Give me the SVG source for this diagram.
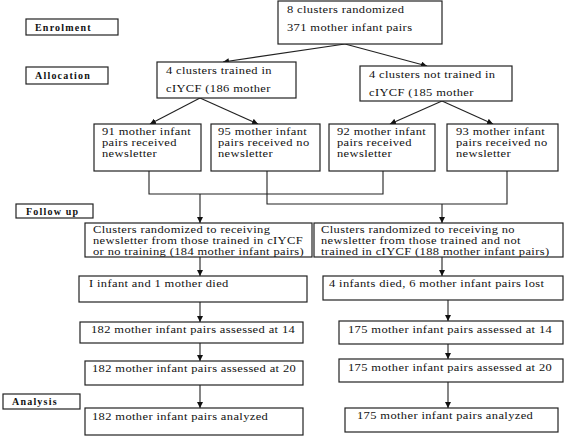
<svg xmlns="http://www.w3.org/2000/svg" width="567" height="436" viewBox="0 0 567 436">
<defs>
<marker id="ah" viewBox="0 0 10 10" refX="10" refY="5" markerWidth="6" markerHeight="6" orient="auto" markerUnits="userSpaceOnUse">
<path d="M0,0 L10,5 L0,10 z" fill="#111"/>
</marker>
</defs>
<style>
rect{fill:#fff;stroke:#222;stroke-width:1.2}
text{font-family:"Liberation Serif","Times New Roman",serif;font-size:10px;letter-spacing:0.3px;fill:#111}
.lbl{font-weight:bold;font-size:10px;letter-spacing:1.2px}
.c{fill:none;stroke:#222;stroke-width:1.1}
.a{marker-end:url(#ah)}
</style>
<rect x="0" y="0" width="567" height="436" style="fill:#fff;stroke:none"/>
<g id="connectors">
<path class="c a" d="M345,44 L223,62"/>
<path class="c a" d="M345,44 L427,66"/>
<path class="c a" d="M200,98 L150,124"/>
<path class="c a" d="M200,98 L258,124"/>
<path class="c a" d="M442,101 L390,124"/>
<path class="c a" d="M442,101 L493,124"/>
<path class="c" d="M149,171 V194 H383 V171"/>
<path class="c" d="M267,171 V204 H507 V171"/>
<path class="c a" d="M200,194 V223"/>
<path class="c a" d="M442,204 V223"/>
<path class="c a" d="M200,257 V276"/>
<path class="c a" d="M442,257 V276"/>
<path class="c a" d="M200,302 V322"/>
<path class="c a" d="M448,300 V321"/>
<path class="c a" d="M200,343 V361"/>
<path class="c a" d="M448,344 V359"/>
<path class="c a" d="M200,385 V408"/>
<path class="c a" d="M448,382 V408"/>
</g>
<g id="lbl-enrolment"><rect x="26" y="19" width="92" height="16"/><text class="lbl" x="35" y="31">Enrolment</text></g>
<g id="lbl-allocation"><rect x="26" y="67" width="82" height="17"/><text class="lbl" x="35" y="79">Allocation</text></g>
<g id="lbl-followup"><rect x="16" y="204" width="77" height="14"/><text class="lbl" x="26" y="215">Follow up</text></g>
<g id="lbl-analysis"><rect x="3" y="394" width="77" height="15"/><text class="lbl" x="12" y="405">Analysis</text></g>
<g id="n-top"><rect x="278" y="1" width="164" height="43"/><text transform="translate(287,13) scale(1.25,1)">8 clusters randomized</text><text transform="translate(287,31) scale(1.25,1)">371 mother infant pairs</text></g>
<g id="n-trained"><rect x="157" y="62" width="139" height="36"/><text transform="translate(166,74) scale(1.25,1)">4 clusters trained in</text><text transform="translate(166,92) scale(1.25,1)">cIYCF (186 mother</text></g>
<g id="n-nottrained"><rect x="360" y="66" width="152" height="35"/><text transform="translate(369,78) scale(1.25,1)">4 clusters not trained in</text><text transform="translate(369,96) scale(1.25,1)">cIYCF (185 mother</text></g>
<g id="n-91"><rect x="94" y="124" width="107" height="47"/><text transform="translate(102,135) scale(1.25,1)">91 mother infant</text><text transform="translate(102,146.2) scale(1.25,1)">pairs received</text><text transform="translate(102,157.4) scale(1.25,1)">newsletter</text></g>
<g id="n-95"><rect x="211" y="124" width="109" height="47"/><text transform="translate(218,135) scale(1.25,1)">95 mother infant</text><text transform="translate(218,146.2) scale(1.25,1)">pairs received no</text><text transform="translate(218,157.4) scale(1.25,1)">newsletter</text></g>
<g id="n-92"><rect x="329" y="124" width="106" height="47"/><text transform="translate(337,135) scale(1.25,1)">92 mother infant</text><text transform="translate(337,146.2) scale(1.25,1)">pairs received</text><text transform="translate(337,157.4) scale(1.25,1)">newsletter</text></g>
<g id="n-93"><rect x="447" y="124" width="111" height="47"/><text transform="translate(456,135) scale(1.25,1)">93 mother infant</text><text transform="translate(456,146.2) scale(1.25,1)">pairs received no</text><text transform="translate(456,157.4) scale(1.25,1)">newsletter</text></g>
<g id="n-fu-left"><rect x="85" y="223" width="227" height="34"/><text transform="translate(93,233) scale(1.25,1)">Clusters randomized to receiving</text><text transform="translate(93,244.2) scale(1.25,1)">newsletter from those trained in cIYCF</text><text transform="translate(93,255.4) scale(1.25,1)">or no training (184 mother infant pairs)</text></g>
<g id="n-fu-right"><rect x="314" y="223" width="249" height="34"/><text transform="translate(321,233) scale(1.25,1)">Clusters randomized to receiving no</text><text transform="translate(321,244.2) scale(1.25,1)">newsletter from those trained and not</text><text transform="translate(321,255.4) scale(1.25,1)">trained in cIYCF (188 mother infant pairs)</text></g>
<g id="n-died-left"><rect x="79" y="276" width="228" height="26"/><text transform="translate(89,287) scale(1.25,1)">I infant and 1 mother died</text></g>
<g id="n-died-right"><rect x="323" y="276" width="240" height="24"/><text transform="translate(329,287) scale(1.25,1)">4 infants died, 6 mother infant pairs lost</text></g>
<g id="n-14-left"><rect x="80" y="322" width="223" height="21"/><text transform="translate(91,333) scale(1.25,1)">182 mother infant pairs assessed at 14</text></g>
<g id="n-14-right"><rect x="339" y="321" width="224" height="23"/><text transform="translate(348,333) scale(1.25,1)">175 mother infant pairs assessed at 14</text></g>
<g id="n-20-left"><rect x="85" y="361" width="218" height="24"/><text transform="translate(92,372) scale(1.25,1)">182 mother infant pairs assessed at 20</text></g>
<g id="n-20-right"><rect x="339" y="359" width="224" height="23"/><text transform="translate(348,371) scale(1.25,1)">175 mother infant pairs assessed at 20</text></g>
<g id="n-an-left"><rect x="85" y="408" width="218" height="27"/><text transform="translate(92,420) scale(1.25,1)">182 mother infant pairs analyzed</text></g>
<g id="n-an-right"><rect x="345" y="408" width="213" height="24"/><text transform="translate(357,419) scale(1.25,1)">175 mother infant pairs analyzed</text></g>
</svg>
